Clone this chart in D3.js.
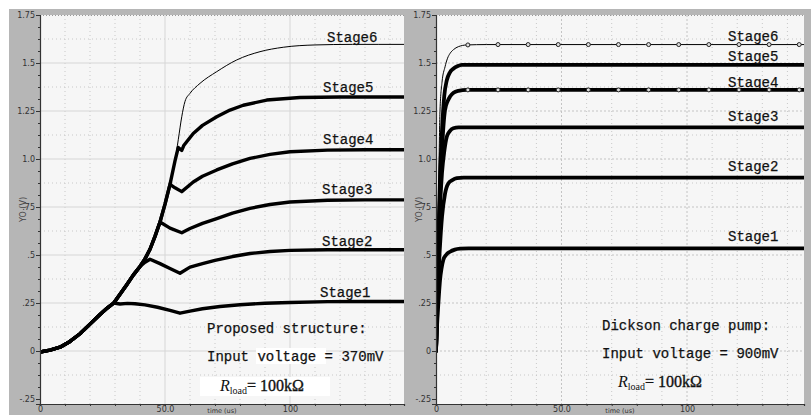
<!DOCTYPE html>
<html><head><meta charset="utf-8">
<script src="https://cdn.jsdelivr.net/npm/d3@7"></script>
<style>body{margin:0;background:#fff}svg{display:block}</style>
</head><body><svg id="c" width="811" height="415"></svg>
<script>
// ---------------- DATA ----------------
const stageNames = ["Stage1","Stage2","Stage3","Stage4","Stage5","Stage6"];
const yTickValues = [-0.25,0,0.25,0.5,0.75,1,1.25,1.5,1.75];
const yTickLabels = ["-.25","0",".25",".5",".75","1.0","1.25","1.5","1.75"];
const xTickValues = [0,50,100];
const xTickLabels = ["0","50.0","100"];

// Proposed structure (left) — shared ramp then branches
const rampT  = [0,4,8,12,16,20,24,27,29.5];
const rampV  = [-0.005,0.005,0.02,0.05,0.09,0.14,0.19,0.225,0.25];
const ramp2T = [32,34.7,37.3,40];
const ramp2V = [0.295,0.345,0.395,0.44];
const upperT = [42,44,46,48,50,52,54];
const upperV = [0.48,0.53,0.597,0.672,0.765,0.868,0.99];
const propS1T = [32,35,38,42,47,52,56,60,65,72,80,90,100,115,130,146];
const propS1V = [0.245,0.248,0.246,0.24,0.228,0.212,0.197,0.208,0.22,0.232,0.241,0.249,0.253,0.257,0.258,0.258];
const propS2T = [42,44,48,52,56,60,65,70,77,84,92,100,115,130,146];
const propS2V = [0.462,0.478,0.455,0.43,0.405,0.437,0.455,0.472,0.492,0.508,0.518,0.524,0.527,0.527,0.527];
const propS3T = [52,56.7,60,65,70.7,77,84,92,100,115,130,146];
const propS3V = [0.64,0.616,0.638,0.665,0.69,0.718,0.743,0.763,0.776,0.785,0.787,0.787];
const propS4T = [54,56.7,61.3,65,70.7,77,84,92,100,115,130,146];
const propS4V = [0.85,0.83,0.88,0.91,0.943,0.975,1.003,1.024,1.038,1.046,1.048,1.048];
const propS5T = [55.3,56.7,57.5,61.3,65,70.7,76,81.3,90.7,104,120,146];
const propS5V = [1.06,1.045,1.07,1.133,1.175,1.22,1.255,1.28,1.307,1.32,1.323,1.323];
const propS6T = [55.3,56.7,58,60,64,70.7,78.7,88,97.3,110,125,146];
const propS6V = [1.1,1.22,1.3,1.342,1.394,1.455,1.516,1.559,1.582,1.594,1.597,1.597];

// Dickson charge pump (right)
const dickS1T = [0,0.3,0.7,1.2,1.6,2.2,2.9,4,5.6,7.5,9.6,13,20,40,80,147];
const dickS1V = [0,0.1,0.2,0.3,0.37,0.43,0.474,0.5,0.517,0.528,0.533,0.535,0.535,0.535,0.535,0.535];
const dickS2T = [0,0.5,1,1.6,2.4,3.6,4.9,6.5,8.3,11,14,30,147];
const dickS2V = [0,0.2,0.4,0.55,0.7,0.82,0.873,0.89,0.9,0.903,0.903,0.903,0.903];
const dickS3T = [0,0.5,1,1.6,2.4,3.3,4.3,5.5,6.9,9,12,30,147];
const dickS3V = [0,0.25,0.5,0.75,0.93,1.04,1.116,1.145,1.16,1.165,1.165,1.165,1.165];
const dickS4T = [0,0.5,1,1.6,2.4,3.6,4.6,5.6,7,8.9,12.3,30,147];
const dickS4V = [0,0.25,0.55,0.8,1.05,1.255,1.3,1.325,1.345,1.355,1.36,1.36,1.36];
const dickS5T = [0,0.5,1,1.6,2.4,3.3,4.3,5.5,6.9,8.5,10.3,14,30,147];
const dickS5V = [0,0.3,0.6,0.9,1.15,1.33,1.41,1.45,1.47,1.483,1.49,1.49,1.49,1.49];
const dickS6T = [0,0.4,0.8,1.2,1.6,2.4,3.6,4.6,5.6,7,8.9,12.3,20,147];
const dickS6V = [0,0.3,0.65,0.98,1.255,1.4,1.48,1.525,1.55,1.57,1.585,1.594,1.596,1.596];
const dickMarkerT = [12.7,24.7,36.7,48.7,60.7,72.7,84.7,96.7,108.7,120.7,132.7,144.7];

// ---------------- BUILD ----------------
const zip = (t,v)=>t.map((d,i)=>[d,v[i]]);
const cat = (...parts)=>[].concat(...parts);
const base = cat(zip(rampT,rampV), zip(ramp2T,ramp2V));
const upper = n => zip(upperT.slice(0,n), upperV.slice(0,n));
const propSeries = [
  cat(zip(rampT,rampV), zip(propS1T,propS1V)),
  cat(base, zip(propS2T,propS2V)),
  cat(base, upper(4), zip(propS3T,propS3V)),
  cat(base, upper(6), zip(propS4T,propS4V)),
  cat(base, upper(7), zip(propS5T,propS5V)),
  cat(base, upper(7), zip(propS6T,propS6V))
];
const dickSeries = [
  zip(dickS1T,dickS1V), zip(dickS2T,dickS2V), zip(dickS3T,dickS3V),
  zip(dickS4T,dickS4V), zip(dickS5T,dickS5V), zip(dickS6T,dickS6V)
];

const svg = d3.select("#c");
svg.append("rect").attr("x",9).attr("y",9).attr("width",802).attr("height",406).attr("fill","#b6b6b6");

const TOP = 15, BOT = 404;
const y = d3.scaleLinear().domain([-0.276,1.75]).range([BOT,TOP]);

function panel(cfg){
  const x = d3.scaleLinear().domain([0,cfg.xmax]).range([cfg.x0,cfg.x1]);
  const g = svg.append("g");
  g.append("rect").attr("x",cfg.x0).attr("y",TOP).attr("width",cfg.x1-cfg.x0).attr("height",BOT-TOP).attr("fill","#f6f6f6");
  const clipId = "clip"+cfg.id;
  g.append("clipPath").attr("id",clipId).append("rect")
    .attr("x",cfg.x0).attr("y",TOP).attr("width",cfg.x1-cfg.x0).attr("height",BOT-TOP);
  const minorX = d3.range(10,cfg.xmax,10).filter(v=>v%50!==0);
  const minorY = d3.range(-0.25,1.75,0.125).filter(v=>Math.abs(v*4-Math.round(v*4))>0.01);
  g.selectAll(".mx").data(minorX).join("line")
    .attr("x1",d=>x(d)).attr("x2",d=>x(d)).attr("y1",TOP).attr("y2",BOT)
    .attr("stroke","#c8c8c8").attr("stroke-width",1).attr("stroke-dasharray","1,3");
  g.selectAll(".my").data(minorY).join("line")
    .attr("x1",cfg.x0).attr("x2",cfg.x1).attr("y1",d=>y(d)).attr("y2",d=>y(d))
    .attr("stroke","#c8c8c8").attr("stroke-width",1).attr("stroke-dasharray","1,3");
  g.selectAll(".gx").data(xTickValues.filter(v=>v>0)).join("line")
    .attr("x1",d=>x(d)).attr("x2",d=>x(d)).attr("y1",TOP).attr("y2",BOT)
    .attr("stroke",cfg.solidGrid?"#d6d6d6":"#c4c4c4").attr("stroke-width",1)
    .attr("stroke-dasharray",cfg.solidGrid?null:"2,2");
  g.selectAll(".gy").data(yTickValues.filter(v=>v>-0.25&&v<1.75)).join("line")
    .attr("x1",cfg.x0).attr("x2",cfg.x1).attr("y1",d=>y(d)).attr("y2",d=>y(d))
    .attr("stroke",cfg.solidGrid?"#d6d6d6":"#c4c4c4").attr("stroke-width",1)
    .attr("stroke-dasharray",cfg.solidGrid?null:"2,2");
  g.append("line").attr("x1",cfg.x0).attr("x2",cfg.x1).attr("y1",TOP+0.5).attr("y2",TOP+0.5)
    .attr("stroke","#999").attr("stroke-dasharray","1,2");

  (cfg.boxes||[]).forEach(b=>g.append("rect").attr("x",b[0]).attr("y",b[1]).attr("width",b[2]).attr("height",b[3]).attr("fill","#ffffff"));

  const lg = g.append("g").attr("clip-path",`url(#${clipId})`);
  cfg.series.forEach((s,i)=>{
    const line = d3.line().x(d=>x(d[0])).y(d=>y(d[1])).curve(cfg.curveFor(i));
    lg.append("path").datum(s).attr("d",line).attr("fill","none")
      .attr("stroke","#000").attr("stroke-width",i===5?1:cfg.thick)
      .attr("stroke-linejoin","round").attr("stroke-linecap","round");
  });
  (cfg.markers||[]).forEach(m=>{
    const s = cfg.series[m];
    const ts=s.map(d=>d[0]), vs=s.map(d=>d[1]);
    const interp = t=>{ const i=d3.bisectLeft(ts,t); if(i<=0) return vs[0]; if(i>=ts.length) return vs[vs.length-1]; const f=(t-ts[i-1])/(ts[i]-ts[i-1]); return vs[i-1]+f*(vs[i]-vs[i-1]); };
    lg.selectAll(null).data(cfg.markerT).join("circle")
      .attr("cx",d=>x(d)).attr("cy",d=>y(interp(d))).attr("r",2)
      .attr("fill","#ddd").attr("stroke","#222").attr("stroke-width",1);
  });

  const ay = g.append("g").attr("transform",`translate(${cfg.x0},0)`)
    .call(d3.axisLeft(y).tickValues(yTickValues).tickFormat((d,i)=>yTickLabels[i]).tickSize(4).tickPadding(1));
  const ayMinor = g.append("g").attr("transform",`translate(${cfg.x0},0)`)
    .call(d3.axisLeft(y).tickValues(d3.range(-0.25,1.75,0.0625)).tickFormat("").tickSize(2));
  ayMinor.select(".domain").remove();
  const ax = g.append("g").attr("transform",`translate(0,${BOT})`)
    .call(d3.axisBottom(x).tickValues(xTickValues).tickFormat((d,i)=>xTickLabels[i]).tickSize(2).tickPadding(0));
  const axMinor = g.append("g").attr("transform",`translate(0,${BOT})`)
    .call(d3.axisBottom(x).tickValues(d3.range(10,cfg.xmax,10)).tickFormat("").tickSize(2));
  axMinor.select(".domain").remove();
  [ay,ax,ayMinor,axMinor].forEach(a=>{
    a.selectAll(".domain").attr("stroke","#333").attr("stroke-width",1.2);
    a.selectAll(".tick line").attr("stroke","#333");
    a.selectAll("text").attr("font-family","DejaVu Sans, sans-serif").attr("font-size",8).attr("fill","#333");
  });
  g.append("text").attr("transform",`translate(${cfg.x0-14},${(TOP+BOT)/2}) rotate(-90)`)
    .attr("text-anchor","middle").attr("font-family","DejaVu Sans, sans-serif").attr("font-size",8).attr("fill","#444")
    .text("YO (V)");
  g.append("text").attr("x",(cfg.x0+cfg.x1)/2).attr("y",413)
    .attr("text-anchor","middle").attr("font-family","DejaVu Sans, sans-serif").attr("font-size",6.5).attr("fill","#333")
    .text("time (us)");

  stageNames.forEach((n,i)=>{
    g.append("text").attr("x",cfg.labelX[i]).attr("y",cfg.labelY[i])
      .attr("font-family","Liberation Mono, monospace").attr("font-size",14).attr("fill","#111")
      .attr("stroke","#111").attr("stroke-width",0.25)
      .text(n);
  });
  cfg.notes.forEach(nt=>{
    g.append("text").attr("x",nt[0]).attr("y",nt[1])
      .attr("font-family","Liberation Mono, monospace").attr("font-size",14).attr("fill","#111")
      .attr("stroke","#111").attr("stroke-width",0.25)
      .attr("xml:space","preserve").text(nt[2]);
  });
  const r = g.append("text").attr("x",cfg.rload[0]).attr("y",cfg.rload[1])
    .attr("font-family","Liberation Serif, serif").attr("font-size",16).attr("fill","#111");
  r.append("tspan").attr("font-style","italic").text("R");
  r.append("tspan").attr("font-size",10).attr("dy",3).text("load");
  r.append("tspan").attr("dy",-3).attr("stroke","#111").attr("stroke-width",0.35).text("= 100k\u03A9");
}

panel({
  id:"L", x0:40, x1:404, xmax:145.6, series:propSeries, thick:3.4, solidGrid:true,
  curveFor: i => i===5 ? d3.curveMonotoneX : d3.curveLinear,
  labelX:[320,322,322,323,323,327], labelY:[297,246,194,144,92,42],
  notes:[[207,333,"Proposed structure:"],[207,361,"Input voltage = 370mV"]],
  rload:[220,391],
  boxes:[[200,377,130,19],[256,348,70,16]]
});
panel({
  id:"R", x0:436, x1:804, xmax:146.6, series:dickSeries, thick:3.8, solidGrid:false,
  curveFor: () => d3.curveMonotoneX,
  labelX:[728,728,728,728,728,728], labelY:[241,171,121,87,61,41],
  notes:[[602,330,"Dickson charge pump:"],[602,358,"Input voltage = 900mV"]],
  rload:[618,387],
  markers:[3,5], markerT:dickMarkerT
});
</script></body></html>
